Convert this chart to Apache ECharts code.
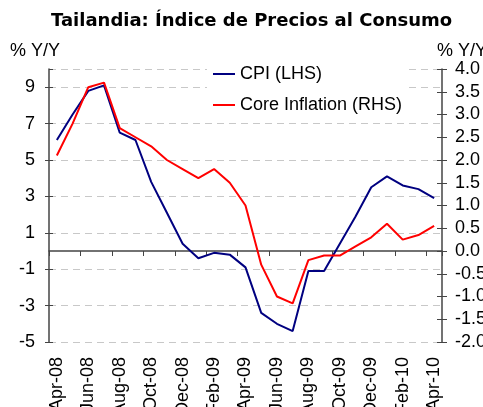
<!DOCTYPE html>
<html>
<head>
<meta charset="utf-8">
<script src="https://cdn.jsdelivr.net/npm/echarts@6/dist/echarts.min.js"></script>
<style>html,body{margin:0;padding:0;background:#fff}#c{width:483px;height:407px}</style>
</head>
<body>
<div id="c"></div>
<script>
var months = ["Apr-08","May-08","Jun-08","Jul-08","Aug-08","Sep-08","Oct-08","Nov-08","Dec-08",
  "Jan-09","Feb-09","Mar-09","Apr-09","May-09","Jun-09","Jul-09","Aug-09","Sep-09","Oct-09","Nov-09","Dec-09",
  "Jan-10","Feb-10","Mar-10","Apr-10"];
var cpi = [6.1, 7.5, 8.8, 9.1, 6.5, 6.1, 3.8, 2.1, 0.4, -0.4, -0.1, -0.2, -0.9, -3.4, -4.0, -4.4,
  -1.1, -1.1, 0.4, 1.9, 3.5, 4.1, 3.6, 3.4, 2.9];
var core = [2.1, 2.8, 3.6, 3.7, 2.7, 2.5, 2.3, 2.0, 1.8, 1.6, 1.8, 1.5, 1.0, -0.3, -1.0, -1.15,
  -0.2, -0.1, -0.1, 0.1, 0.3, 0.6, 0.25, 0.35, 0.55];
var seriesNames = ["CPI (LHS)", "Core Inflation (RHS)"];
var titleText = "Tailandia: Índice de Precios al Consumo";
var unitText = "% Y/Y";

var chart = echarts.init(document.getElementById('c'));
var axisCol = '#444';
var FONT = 'Liberation Sans, Arial, sans-serif';
chart.setOption({
  animation: false,
  title: {
    text: titleText, left: 46, top: 7,
    textStyle: {fontFamily: 'DejaVu Sans', fontWeight: 'bold', fontSize: 18, color: '#000'}
  },
  graphic: [
    {type: 'text', left: 10, top: 42, style: {text: unitText, font: '18px ' + FONT, fill: '#000'}},
    {type: 'text', left: 437, top: 42, style: {text: unitText, font: '18px ' + FONT, fill: '#000'}}
  ],
  legend: {
    orient: 'vertical', left: 207, top: 57, itemWidth: 22, itemHeight: 2, itemGap: 13,
    icon: 'rect',
    backgroundColor: '#fff', padding: [8, 6, 6, 6],
    textStyle: {fontFamily: FONT, fontSize: 18, color: '#000'},
    data: seriesNames
  },
  grid: {left: 49, right: 41, top: 69, bottom: 65, outerBoundsMode: 'none', containLabel: false},
  xAxis: [
    {type: 'category', data: months, boundaryGap: true,
     axisLine: {onZero: true, lineStyle: {color: axisCol, width: 1.5}},
     axisTick: {show: true, interval: 1, length: 5, lineStyle: {color: axisCol}},
     axisLabel: {show: false}},
    {type: 'category', data: months, boundaryGap: true, position: 'bottom',
     axisLine: {show: false, onZero: false}, axisTick: {show: false},
     axisLabel: {interval: 1, rotate: 90, margin: 15, fontFamily: FONT, fontSize: 18, color: '#000'}}
  ],
  yAxis: [
    {type: 'value', min: -5, max: 10, interval: 2, position: 'left',
     axisLine: {show: true, lineStyle: {color: axisCol, width: 1.5}},
     axisTick: {show: true, length: 4, lineStyle: {color: axisCol}},
     axisLabel: {margin: 14, fontFamily: FONT, fontSize: 18, color: '#000', showMaxLabel: false},
     splitLine: {show: true, lineStyle: {color: '#c8c8c8', type: [7, 5]}}},
    {type: 'value', min: -2, max: 4, interval: 0.5, position: 'right',
     axisLine: {show: true, lineStyle: {color: axisCol, width: 1.5}},
     axisTick: {show: true, length: 5, lineStyle: {color: axisCol}},
     axisLabel: {margin: 13, fontFamily: FONT, fontSize: 18, color: '#000',
       formatter: function (v) { return v.toFixed(1); }},
     splitLine: {show: false}},
    {type: 'value', min: -5, max: 10, interval: 2, position: 'left',
     axisLine: {show: false}, axisLabel: {show: false}, splitLine: {show: false},
     axisTick: {show: true, inside: true, length: 4, lineStyle: {color: axisCol}}},
    {type: 'value', min: -2, max: 4, interval: 0.5, position: 'right',
     axisLine: {show: false}, axisLabel: {show: false}, splitLine: {show: false},
     axisTick: {show: true, inside: true, length: 5, lineStyle: {color: axisCol}}}
  ],
  series: [
    {name: seriesNames[0], type: 'line', data: cpi, xAxisIndex: 0, yAxisIndex: 0,
     symbol: 'none', lineStyle: {color: '#000080', width: 2}, itemStyle: {color: '#000080'}},
    {name: seriesNames[1], type: 'line', data: core, xAxisIndex: 0, yAxisIndex: 1,
     symbol: 'none', lineStyle: {color: '#ff0000', width: 2}, itemStyle: {color: '#ff0000'}}
  ]
});
</script>
</body>
</html>
